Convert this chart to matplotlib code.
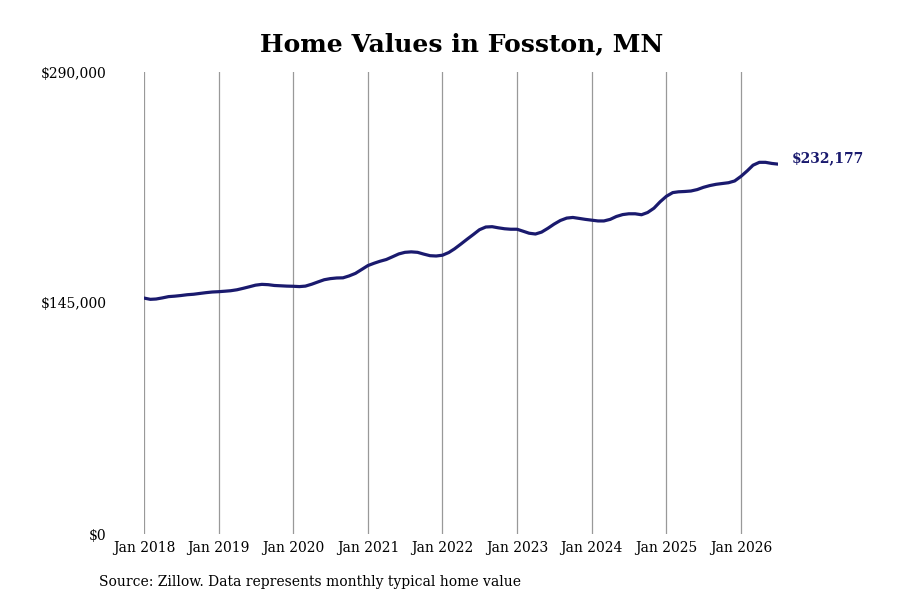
import numpy as np
import pandas as pd
import matplotlib
matplotlib.use("Agg")
import matplotlib.pyplot as plt
import matplotlib.dates as mdates

# monthly typical home value, Jan 2018 .. Jul 2026
values = [
    148100, 147300, 147500, 148200, 149000, 149300, 149700, 150200, 150500, 151000, 151500, 151900,
    152100, 152400, 152700, 153300, 154200, 155200, 156200, 156700, 156500, 156000, 155800, 155600,
    155500, 155300, 155600, 156800, 158200, 159600, 160300, 160700, 160800, 162000, 163600, 166000,
    168500, 170000, 171200, 172300, 174000, 175800, 176800, 177100, 176800, 175700, 174700, 174500,
    175000, 176700, 179000, 182000, 185000, 188000, 191000, 192700, 192900, 192200, 191600, 191300,
    191300, 190000, 188800, 188300, 189500, 191900, 194500, 196800, 198300, 198700, 198100, 197500,
    197000, 196500, 196500, 197500, 199300, 200500, 201000, 201000, 200400, 201800, 204500, 208500,
    212000, 214300, 214800, 215000, 215300, 216200, 217600, 218700, 219500, 220000, 220500, 221600,
    224500, 228000, 231500, 233300, 233300, 232600, 232177,
]
dates = pd.date_range("2018-01-01", periods=len(values), freq="MS")
y_ticks = [0, 145000, 290000]
y_labels = ["$0", "$145,000", "$290,000"]
title = "Home Values in Fosston, MN"
source = "Source: Zillow. Data represents monthly typical home value"

plt.rcParams['font.family'] = ['DejaVu Serif']
navy = "#1a1a6e"

fig = plt.figure(figsize=(9, 6), dpi=100)
ax = fig.add_axes([0.16, 0.11, 0.7044, 0.77])

ax.plot(dates, values, color=navy, linewidth=2.3, solid_capstyle="round")

ax.set_xlim(dates[0], dates[-1])
ax.set_ylim(0, 290000)
ax.set_yticks(y_ticks)
ax.set_yticklabels(y_labels)

ax.xaxis.set_major_locator(mdates.YearLocator())
ax.xaxis.set_major_formatter(mdates.DateFormatter("%b %Y"))
ax.grid(axis="x", color="#999999", linewidth=0.9)
ax.grid(axis="y", visible=False)
for s in ax.spines.values():
    s.set_visible(False)
ax.tick_params(axis="both", length=0, labelsize=10)
ax.tick_params(axis="y", pad=27)
ax.tick_params(axis="x", pad=5)

ax.annotate("${:,}".format(values[-1]), xy=(dates[-1], values[-1]),
            xytext=(10, 4), textcoords="offset points", fontsize=10,
            fontweight="bold", color=navy, va="center", ha="left",
            annotation_clip=False)

fig.text(0.513, 0.927, title, ha="center", va="center", fontsize=18, fontweight="bold")
fig.text(0.11, 0.03, source, ha="left", va="center", fontsize=10)

fig.savefig("out.png", dpi=100, facecolor="white")
